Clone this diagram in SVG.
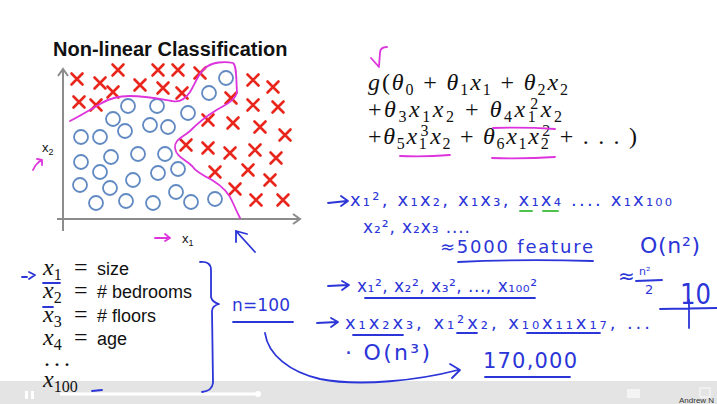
<svg xmlns="http://www.w3.org/2000/svg" width="717" height="404" viewBox="0 0 717 404">
<defs>
<style>
.x{stroke:#e8261c;stroke-width:2.6;stroke-linecap:round;fill:none}
.o{stroke:#6189c2;stroke-width:1.8;fill:none}
.ax{stroke:#8c8c8c;stroke-width:2;fill:none}
.mg{stroke:#dd33dd;stroke-width:1.8;fill:none;stroke-linecap:round;stroke-linejoin:round}
.ink{stroke:#2b35d8;stroke-width:1.8;fill:none;stroke-linecap:round;stroke-linejoin:round}
.gr{stroke:#4ec24e;stroke-width:2;fill:none;stroke-linecap:round}
.hw{font-family:"DejaVu Sans",sans-serif;fill:#2b35d8}
.m{font-family:"Liberation Serif",serif;fill:#111;font-size:24px}
.i{font-style:italic}
.sb{font-size:16px}
.lab{font-family:"Liberation Sans",Arial,sans-serif;fill:#111}
</style>
<g id="xm"><path d="M-5.5,-5.5L5.5,5.5M5.5,-5.5L-5.5,5.5" class="x"/></g>
</defs>
<rect width="717" height="404" fill="#fff"/>
<g id="player">
<rect x="0" y="381" width="717" height="23" fill="#e4e4e4"/>
<path d="M60,394 L258,394" stroke="#fff" stroke-width="3"/>
<circle cx="258" cy="394" r="3" fill="#fff"/>
<rect x="25" y="391" width="3" height="8" fill="#fff"/>
<rect x="31" y="391" width="3" height="8" fill="#fff"/>
<rect x="627" y="389" width="13" height="9" fill="#f4f4f4"/>
<rect x="700" y="388" width="10" height="9" fill="none" stroke="#f4f4f4" stroke-width="1.5"/>
<text x="679" y="403" font-family="Liberation Sans,sans-serif" font-size="8" fill="#333">Andrew N</text>
</g>
<g id="plot">
<text x="53" y="56" class="lab" font-size="20" font-weight="bold">Non-linear Classification</text>
<path class="ax" d="M63,231 L63,70 M58,76 L63,69 L68,76"/>
<path class="ax" d="M57,219 L299,219 M293,214 L300,219 L293,224"/>
<text x="42" y="152" class="lab" font-size="13">x<tspan font-size="9" baseline-shift="-3">2</tspan></text>
<text x="182" y="243" class="lab" font-size="13">x<tspan font-size="9" baseline-shift="-3">1</tspan></text>
<g id="crosses">
<use href="#xm" x="77" y="79"/><use href="#xm" x="100" y="83"/><use href="#xm" x="118" y="70"/><use href="#xm" x="140" y="85"/>
<use href="#xm" x="158" y="70"/><use href="#xm" x="163" y="88"/><use href="#xm" x="178" y="70"/><use href="#xm" x="113" y="92"/>
<use href="#xm" x="79" y="102"/><use href="#xm" x="96" y="105"/><use href="#xm" x="200" y="73"/><use href="#xm" x="182" y="93"/>
<use href="#xm" x="253" y="80"/><use href="#xm" x="273" y="87"/><use href="#xm" x="231" y="98"/><use href="#xm" x="253" y="105"/>
<use href="#xm" x="278" y="107"/><use href="#xm" x="208" y="120"/><use href="#xm" x="233" y="123"/><use href="#xm" x="260" y="127"/>
<use href="#xm" x="285" y="135"/><use href="#xm" x="186" y="145"/><use href="#xm" x="208" y="148"/><use href="#xm" x="230" y="153"/>
<use href="#xm" x="255" y="150"/><use href="#xm" x="276" y="158"/><use href="#xm" x="215" y="172"/><use href="#xm" x="248" y="170"/>
<use href="#xm" x="270" y="180"/><use href="#xm" x="235" y="189"/><use href="#xm" x="256" y="200"/><use href="#xm" x="283" y="200"/>
</g>
<g id="circles" class="o">
<circle cx="128" cy="106" r="7"/><circle cx="157" cy="106" r="7"/><circle cx="113" cy="119" r="7"/><circle cx="125" cy="131" r="7"/>
<circle cx="150" cy="125" r="7"/><circle cx="168" cy="127" r="7"/><circle cx="81" cy="137" r="7"/><circle cx="100" cy="137" r="7"/>
<circle cx="226" cy="78" r="7"/><circle cx="209" cy="93" r="7"/><circle cx="188" cy="113" r="7"/><circle cx="81" cy="162" r="7"/>
<circle cx="111" cy="157" r="7"/><circle cx="138" cy="154" r="7"/><circle cx="165" cy="154" r="7"/><circle cx="100" cy="172" r="7"/>
<circle cx="133" cy="180" r="7"/><circle cx="158" cy="173" r="7"/><circle cx="178" cy="169" r="7"/><circle cx="80" cy="185" r="7"/>
<circle cx="110" cy="188" r="7"/><circle cx="176" cy="192" r="7"/><circle cx="96" cy="203" r="7"/><circle cx="126" cy="201" r="7"/>
<circle cx="153" cy="203" r="7"/><circle cx="191" cy="202" r="7"/><circle cx="215" cy="199" r="7"/>
</g>
<path id="boundary" class="mg" d="M70,121 C78,117 90,110 100,104 C108,99 118,96 130,96 C145,96 160,99 172,101 C180,103 186,98 190,92 C195,84 198,74 205,68 C212,62 225,61 233,63 C237,66 236,80 237,92 C236,100 225,105 215,111 C205,117 197,124 190,131 C182,138 174,140 175,148 C176,157 186,160 192,166 C196,172 204,176 212,180 C222,186 230,195 233,203 C236,210 238,214 240,218"/>
<path class="mg" d="M33,170 Q36,163 42,160 M37,159 L42,160 L42,165"/>
<path class="mg" d="M155,238 L170,238 M165,234 L170,238 L165,241"/>
<path class="ink" d="M255,252 L236,231 M236,231 L236,242 M236,231 L247,234"/>
</g>
<g id="formula">
<path class="mg" d="M387,47 Q380,47 380,53 L379,66 M371,58 L379,67"/>
<text x="368" y="90" class="m" textLength="200" lengthAdjust="spacing"><tspan class="i">g</tspan>(<tspan class="i">θ</tspan><tspan class="sb" baseline-shift="-5">0</tspan> + <tspan class="i">θ</tspan><tspan class="sb" baseline-shift="-5">1</tspan><tspan class="i">x</tspan><tspan class="sb" baseline-shift="-5">1</tspan> + <tspan class="i">θ</tspan><tspan class="sb" baseline-shift="-5">2</tspan><tspan class="i">x</tspan><tspan class="sb" baseline-shift="-5">2</tspan></text>
<text x="368" y="117" class="m" textLength="194" lengthAdjust="spacing">+<tspan class="i">θ</tspan><tspan class="sb" baseline-shift="-5">3</tspan><tspan class="i">x</tspan><tspan class="sb" baseline-shift="-5">1</tspan><tspan class="i">x</tspan><tspan class="sb" baseline-shift="-5">2</tspan> + <tspan class="i">θ</tspan><tspan class="sb" baseline-shift="-5">4</tspan><tspan class="i">x</tspan><tspan class="sb" baseline-shift="-5">1</tspan><tspan class="sb" dx="-8" baseline-shift="8">2</tspan><tspan class="i">x</tspan><tspan class="sb" baseline-shift="-5">2</tspan></text>
<text x="368" y="144" class="m" textLength="269" lengthAdjust="spacing">+<tspan class="i">θ</tspan><tspan class="sb" baseline-shift="-5">5</tspan><tspan class="i">x</tspan><tspan class="sb" baseline-shift="-5">1</tspan><tspan class="sb" dx="-8" baseline-shift="8">3</tspan><tspan class="i">x</tspan><tspan class="sb" baseline-shift="-5">2</tspan> + <tspan class="i">θ</tspan><tspan class="sb" baseline-shift="-5">6</tspan><tspan class="i">x</tspan><tspan class="sb" baseline-shift="-5">1</tspan><tspan class="i">x</tspan><tspan class="sb" baseline-shift="-5">2</tspan><tspan class="sb" dx="-8" baseline-shift="8">2</tspan> + . . . )</text>
<path class="mg" d="M493,128 Q525,127 555,129 M400,156 Q425,157 450,155 M492,158 Q525,159 555,157"/>
</g>
<g id="features">
<text x="43" y="275" class="m" font-size="25"><tspan class="i">x</tspan><tspan class="sb" font-size="17" baseline-shift="-5">1</tspan></text>
<text x="74" y="275" class="m" font-size="25">=</text>
<text x="97" y="275" class="lab" font-size="18">size</text>
<text x="43" y="298" class="m" font-size="25"><tspan class="i">x</tspan><tspan class="sb" font-size="17" baseline-shift="-5">2</tspan></text>
<text x="74" y="298" class="m" font-size="25">=</text>
<text x="97" y="298" class="lab" font-size="18"># bedrooms</text>
<text x="43" y="322" class="m" font-size="25"><tspan class="i">x</tspan><tspan class="sb" font-size="17" baseline-shift="-5">3</tspan></text>
<text x="74" y="322" class="m" font-size="25">=</text>
<text x="97" y="322" class="lab" font-size="18"># floors</text>
<text x="43" y="345" class="m" font-size="25"><tspan class="i">x</tspan><tspan class="sb" font-size="17" baseline-shift="-5">4</tspan></text>
<text x="74" y="345" class="m" font-size="25">=</text>
<text x="97" y="345" class="lab" font-size="18">age</text>
<text x="44" y="366" class="m" font-size="17" letter-spacing="4">...</text>
<text x="43" y="387" class="m" font-size="25"><tspan class="i">x</tspan><tspan class="sb" font-size="17" baseline-shift="-5">100</tspan></text>
</g>
<g id="annotations">
<path class="ink" d="M22,277 L27,277 M29,272 L35,275 L29,279"/>
<path class="ink" d="M43,283 L60,283 M43,307 L53,307 M92,391 L102,390"/>
<path class="ink" d="M200,262 Q211,261 211,270 L211,297 Q212,302 219,304 Q212,306 212,311 L213,383 Q212,391 202,392"/>
<text x="232" y="311" class="hw" font-size="17" textLength="58" lengthAdjust="spacing">n=100</text>
<path class="ink" d="M233,322 L293,322"/>
<path class="ink" d="M265,333 C268,355 290,372 320,379 C360,387 420,380 458,370 M450,364 L460,370 L452,378"/>
<path class="ink" d="M328,203 L347,201 M341,196 L348,201 L341,206"/>
<text x="350" y="206" class="hw" font-size="18" textLength="322" lengthAdjust="spacing">x₁², x₁x₂, x₁x₃, x₁x₄ .... x₁x₁₀₀</text>
<path class="gr" d="M520,211 L532,211 M543,211 L558,211"/>
<text x="363" y="233" class="hw" font-size="17" textLength="107" lengthAdjust="spacing">x₂², x₂x₃ ....</text>
<text x="440" y="253" class="hw" font-size="18" textLength="153" lengthAdjust="spacing">≈5000 feature</text>
<path class="ink" d="M458,262 Q520,259 593,261"/>
<text x="640" y="253" class="hw" font-size="22" textLength="60" lengthAdjust="spacing">O(n²)</text>
<text x="618" y="283" class="hw" font-size="20">≈</text>
<text x="639" y="275" class="hw" font-size="11">n²</text>
<path class="ink" d="M636,281 L662,280"/>
<text x="645" y="294" class="hw" font-size="13">2</text>
<text x="680" y="304" class="hw" font-size="29" textLength="31" lengthAdjust="spacingAndGlyphs">10</text>
<path class="ink" d="M689,300 L689,328 M660,309 L717,308"/>
<path class="ink" d="M328,286 L348,285 M342,281 L349,285 L342,290"/>
<text x="357" y="292" class="hw" font-size="17" textLength="180" lengthAdjust="spacing">x₁², x₂², x₃², ..., x₁₀₀²</text>
<path class="ink" d="M365,298 L535,298"/>
<path class="ink" d="M317,323 L337,322 M331,318 L338,322 L331,327"/>
<text x="345" y="329" class="hw" font-size="18" textLength="305" lengthAdjust="spacing">x₁x₂x₃, x₁²x₂, x₁₀x₁₁x₁₇, ...</text>
<path class="ink" d="M353,335 L403,335 M457,333 L477,333 M527,333 L600,333"/>
<text x="345" y="360" class="hw" font-size="22" textLength="85" lengthAdjust="spacing">· O(n³)</text>
<text x="483" y="368" class="hw" font-size="21" textLength="94" lengthAdjust="spacing">170,000</text>
<path class="ink" d="M485,377 L570,377"/>
</g>
</svg>
